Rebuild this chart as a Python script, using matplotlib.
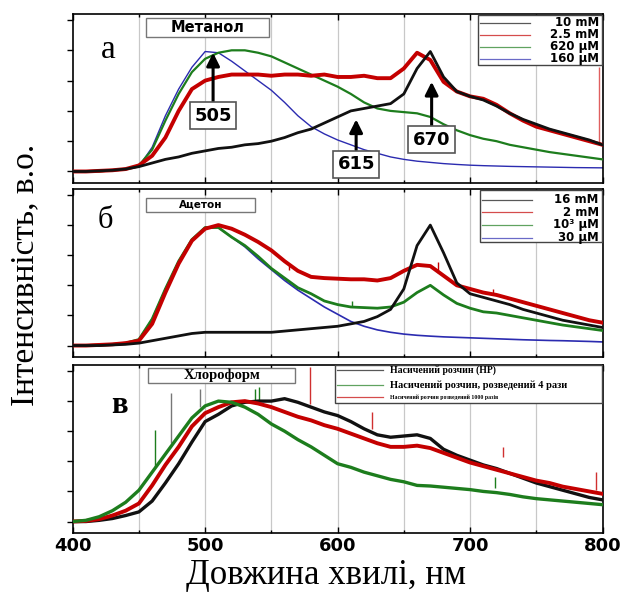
import matplotlib
matplotlib.use('Agg')
import matplotlib.pyplot as plt
import matplotlib.patches as mpatches
import numpy as np

# wavelength grid, nm
wl = np.arange(400, 801, 10)

# --- methanol ---
met_160uM = [0.0, 0.0, 0.0, 0.01, 0.02, 0.04, 0.2, 0.46, 0.68, 0.86, 0.99, 0.98, 0.91, 0.83,
             0.75, 0.67, 0.57, 0.46, 0.37, 0.31, 0.26, 0.22, 0.18, 0.15, 0.12, 0.10, 0.085,
             0.075, 0.065, 0.058, 0.052, 0.048, 0.045, 0.042, 0.04, 0.038, 0.036, 0.034,
             0.032, 0.031, 0.03]
met_620uM = [0.0, 0.0, 0.0, 0.01, 0.02, 0.05, 0.18, 0.42, 0.64, 0.82, 0.93, 0.98, 1.0, 1.0,
             0.98, 0.95, 0.9, 0.85, 0.8, 0.75, 0.7, 0.64, 0.57, 0.52, 0.5, 0.49, 0.48, 0.45,
             0.39, 0.34, 0.3, 0.27, 0.25, 0.22, 0.2, 0.18, 0.16, 0.145, 0.13, 0.115, 0.1]
met_2_5mM = [0.0, 0.0, 0.005, 0.01, 0.02, 0.05, 0.13, 0.28, 0.5, 0.68, 0.75, 0.78, 0.8, 0.8,
             0.8, 0.79, 0.8, 0.8, 0.79, 0.8, 0.78, 0.78, 0.79, 0.77, 0.77, 0.85, 0.98, 0.92,
             0.74, 0.66, 0.62, 0.6, 0.55, 0.48, 0.42, 0.37, 0.34, 0.31, 0.28, 0.25, 0.22]
met_10mM = [0.0, 0.0, 0.005, 0.01, 0.02, 0.04, 0.07, 0.1, 0.12, 0.15, 0.17, 0.19, 0.2, 0.22,
            0.23, 0.25, 0.28, 0.32, 0.35, 0.4, 0.45, 0.5, 0.52, 0.54, 0.56, 0.64, 0.85, 0.99,
            0.78, 0.66, 0.62, 0.59, 0.54, 0.48, 0.43, 0.39, 0.35, 0.32, 0.29, 0.26, 0.22]

# --- acetone ---
ace_30uM = [0.0, 0.0, 0.005, 0.01, 0.02, 0.05, 0.22, 0.47, 0.7, 0.88, 0.98, 0.98, 0.9, 0.82,
            0.72, 0.63, 0.54, 0.46, 0.39, 0.32, 0.26, 0.2, 0.16, 0.13, 0.11, 0.095, 0.085,
            0.078, 0.072, 0.068, 0.064, 0.06, 0.056, 0.052, 0.048, 0.045, 0.042, 0.04, 0.037,
            0.034, 0.03]
ace_1000uM = [0.0, 0.0, 0.005, 0.01, 0.02, 0.05, 0.22, 0.47, 0.7, 0.88, 0.98, 0.98, 0.9, 0.83,
              0.74, 0.64, 0.56, 0.48, 0.43, 0.37, 0.34, 0.32, 0.315, 0.31, 0.32, 0.36, 0.44,
              0.5, 0.42, 0.35, 0.31, 0.28, 0.27, 0.25, 0.23, 0.21, 0.19, 0.17, 0.155, 0.14,
              0.125]
ace_2mM = [0.0, 0.0, 0.005, 0.01, 0.02, 0.04, 0.18, 0.44, 0.68, 0.87, 0.97, 1.0, 0.97, 0.92,
           0.86, 0.79, 0.7, 0.62, 0.57, 0.56, 0.555, 0.55, 0.55, 0.54, 0.56, 0.62, 0.67, 0.66,
           0.58, 0.5, 0.47, 0.44, 0.42, 0.39, 0.36, 0.33, 0.3, 0.27, 0.24, 0.21, 0.19]
ace_16mM = [0.0, 0.0, 0.0, 0.005, 0.01, 0.02, 0.04, 0.06, 0.08, 0.1, 0.11, 0.11, 0.11, 0.11,
            0.11, 0.11, 0.12, 0.13, 0.14, 0.15, 0.16, 0.18, 0.2, 0.24, 0.3, 0.47, 0.83, 1.0,
            0.77, 0.52, 0.43, 0.4, 0.37, 0.34, 0.3, 0.27, 0.24, 0.21, 0.19, 0.17, 0.15]

# --- chloroform ---
chl_sat = [0.0, 0.0, 0.01, 0.025, 0.05, 0.08, 0.17, 0.32, 0.48, 0.66, 0.83, 0.89, 0.96, 0.99,
           1.0, 1.0, 1.02, 0.99, 0.95, 0.91, 0.88, 0.83, 0.77, 0.72, 0.7, 0.71, 0.72, 0.69,
           0.6, 0.55, 0.51, 0.47, 0.44, 0.4, 0.36, 0.32, 0.29, 0.26, 0.23, 0.2, 0.18]
chl_x1000 = [0.0, 0.005, 0.02, 0.05, 0.09, 0.15, 0.3, 0.47, 0.62, 0.79, 0.9, 0.95, 0.99, 1.0,
             0.98, 0.95, 0.91, 0.87, 0.84, 0.8, 0.77, 0.73, 0.69, 0.65, 0.62, 0.62, 0.63, 0.61,
             0.57, 0.53, 0.49, 0.46, 0.43, 0.4, 0.37, 0.34, 0.32, 0.29, 0.27, 0.25, 0.23]
chl_x4 = [0.0, 0.01, 0.04, 0.09, 0.16, 0.26, 0.41, 0.56, 0.71, 0.86, 0.96, 1.0, 0.99, 0.95,
          0.89, 0.81, 0.75, 0.68, 0.62, 0.55, 0.48, 0.45, 0.41, 0.38, 0.35, 0.33, 0.3, 0.295,
          0.285, 0.275, 0.265, 0.25, 0.24, 0.225, 0.205, 0.19, 0.18, 0.17, 0.16, 0.15, 0.14]

# narrow spikes: wavelength, low, high
spikes_a = [(797, 0.22, 0.86, '#e06060')]
spikes_b = [(611, 0.32, 0.37, '#1d7d1d'), (676, 0.6, 0.69, '#c40000'),
            (717, 0.42, 0.47, '#c40000'), (563, 0.63, 0.68, '#c40000')]
spikes_c = [(474, 0.65, 1.07, '#777777'), (496, 0.95, 1.1, '#777777'),
            (462, 0.45, 0.76, '#1d7d1d'), (579, 0.98, 1.28, '#d03030'),
            (626, 0.77, 0.91, '#d03030'), (538, 0.99, 1.1, '#1d7d1d'),
            (541, 0.98, 1.12, '#1d7d1d'), (719, 0.28, 0.37, '#1d7d1d'),
            (725, 0.54, 0.62, '#d03030'), (795, 0.26, 0.41, '#d03030')]

# peak markers on the methanol panel
peak_labels = ['505', '615', '670']
peak_x = [506, 614, 671]
peak_tip = [0.98, 0.43, 0.74]
peak_box_y = [0.46, 0.06, 0.26]

BLACK, RED, GREEN, BLUE = '#111111', '#c40000', '#1d7d1d', '#2b2bb0'

legend_a = ['10 mM', '2.5 mM', '620 \u03bcM', '160 \u03bcM']
legend_b = ['16 mM', '2 mM', '10\u00b3 \u03bcM', '30 \u03bcM']
legend_c = ['Насичений розчин (НР)', 'Насичений розчин, розведений 4 рази',
            'Насичений розчин розведений 1000 разів']

SERIF = 'Liberation Serif'

fig = plt.figure(figsize=(6.25, 5.92), dpi=100)
left, width = 0.1163, 0.8477
ax_a = fig.add_axes([left, 0.6909, width, 0.2855])
ax_b = fig.add_axes([left, 0.3970, width, 0.2838])
ax_c = fig.add_axes([left, 0.0997, width, 0.2838])

for ax in (ax_a, ax_b, ax_c):
    ax.set_xlim(400, 800)
    ax.set_ylim(-0.095, 1.3)
    ax.set_xticks(np.arange(400, 801, 100))
    ax.set_xticks(np.arange(450, 800, 100), minor=True)
    ax.set_yticks(np.arange(0, 1.3, 0.25))
    ax.set_yticklabels([])
    for x in range(450, 800, 50):
        ax.axvline(x, color='#c8c8c8', lw=0.9, zorder=0)
    ax.tick_params(axis='x', which='major', direction='in', length=4, width=1.0,
                   top=True, bottom=True)
    ax.tick_params(axis='x', which='minor', direction='in', length=2.5, width=1.0,
                   top=True, bottom=True)
    ax.tick_params(axis='y', direction='out', length=4, width=1.0)
    for s in ax.spines.values():
        s.set_linewidth(1.2)

ax_a.set_xticklabels([])
ax_b.set_xticklabels([])
ax_c.set_xticklabels([str(v) for v in range(400, 801, 100)],
                     fontsize=13, fontweight='bold')
ax_c.tick_params(axis='x', pad=3)

# spectra
ax_a.plot(wl, met_160uM, color=BLUE, lw=1.0, zorder=2)
ax_a.plot(wl, met_620uM, color=GREEN, lw=1.6, zorder=3)
ax_a.plot(wl, met_2_5mM, color=RED, lw=2.8, zorder=4)
ax_a.plot(wl, met_10mM, color=BLACK, lw=2.0, zorder=5)

ax_b.plot(wl, ace_30uM, color=BLUE, lw=1.2, zorder=2)
ax_b.plot(wl, ace_1000uM, color=GREEN, lw=2.0, zorder=3)
ax_b.plot(wl, ace_2mM, color=RED, lw=2.8, zorder=4)
ax_b.plot(wl, ace_16mM, color=BLACK, lw=2.0, zorder=5)

ax_c.plot(wl, chl_sat, color=BLACK, lw=2.4, zorder=3)
ax_c.plot(wl, chl_x1000, color=RED, lw=2.8, zorder=4)
ax_c.plot(wl, chl_x4, color=GREEN, lw=2.4, zorder=5)

for ax, spikes in ((ax_a, spikes_a), (ax_b, spikes_b), (ax_c, spikes_c)):
    for x, lo, hi, c in spikes:
        ax.vlines(x, lo, hi, colors=c, lw=1.0, zorder=2)


def title_box(ax, text, x0, y0, w, h, **kw):
    ax.add_patch(mpatches.Rectangle((x0, y0), w, h, transform=ax.transAxes,
                                    facecolor='white', edgecolor='#777777',
                                    lw=1.0, zorder=8))
    ax.text(x0 + w / 2, y0 + h / 2, text, transform=ax.transAxes,
            ha='center', va='center', zorder=9, **kw)


title_box(ax_a, 'Метанол', 0.138, 0.864, 0.232, 0.112, fontsize=10.5, fontweight='bold')
title_box(ax_b, 'Ацетон', 0.138, 0.863, 0.207, 0.083, fontsize=7.5, fontweight='bold')
title_box(ax_c, 'Хлороформ', 0.143, 0.893, 0.277, 0.089, fontsize=10.5,
          fontweight='bold', family=SERIF)

ax_a.text(0.067, 0.79, 'а', transform=ax_a.transAxes, fontsize=24, family=SERIF,
          ha='center', va='center', zorder=9)
ax_b.text(0.061, 0.815, 'б', transform=ax_b.transAxes, fontsize=22, family=SERIF,
          ha='center', va='center', zorder=9)
ax_c.text(0.089, 0.76, 'в', transform=ax_c.transAxes, fontsize=22, family=SERIF,
          fontweight='bold', ha='center', va='center', zorder=9)


def conc_legend(ax, labels, colors, box, rows, line_x, text_x, ha, sizes, **kw):
    x0, y0, x1, y1 = box
    ax.add_patch(mpatches.Rectangle((x0, y0), x1 - x0, y1 - y0, transform=ax.transAxes,
                                    facecolor='white', edgecolor='#444444', lw=1.0,
                                    zorder=8, clip_on=False))
    for lab, c, y, fs in zip(labels, colors, rows, sizes):
        ax.plot(line_x, [y, y], color=c, lw=0.9, transform=ax.transAxes, zorder=9,
                alpha=0.7)
        ax.text(text_x, y, lab, transform=ax.transAxes, ha=ha, va='center',
                fontsize=fs, fontweight='bold', zorder=10, **kw)


conc_legend(ax_a, legend_a, [BLACK, RED, GREEN, BLUE], (0.765, 0.698, 0.999, 0.994),
            [0.947, 0.876, 0.805, 0.734], [0.768, 0.863], 0.993, 'right', [8.5] * 4)
conc_legend(ax_b, legend_b, [BLACK, RED, GREEN, BLUE], (0.769, 0.685, 0.999, 0.994),
            [0.935, 0.860, 0.786, 0.711], [0.772, 0.866], 0.993, 'right', [8.5] * 4)
conc_legend(ax_c, legend_c, [BLACK, GREEN, RED], (0.495, 0.774, 0.999, 0.999),
            [0.970, 0.881, 0.807], [0.498, 0.585], 0.598, 'left', [7.0, 7.5, 4.2],
            family=SERIF)

for lab, nm, tip, by in zip(peak_labels, peak_x, peak_tip, peak_box_y):
    ax_a.annotate(lab, xy=(nm, tip), xytext=(nm, by),
                  ha='center', va='center', fontsize=13, fontweight='bold', zorder=10,
                  bbox=dict(boxstyle='square,pad=0.25', fc='white', ec='#555555', lw=1.2),
                  arrowprops=dict(arrowstyle='-|>,head_length=0.6,head_width=0.3',
                                  lw=2.2, color='black', shrinkA=0, shrinkB=0))

fig.text(0.040, 0.535, 'Інтенсивність, в.о.', rotation=90, ha='center', va='center',
         fontsize=24, family=SERIF)
fig.text(0.521, 0.028, 'Довжина хвилі, нм', ha='center', va='center',
         fontsize=25, family=SERIF)

fig.savefig('out.png', dpi=100)
